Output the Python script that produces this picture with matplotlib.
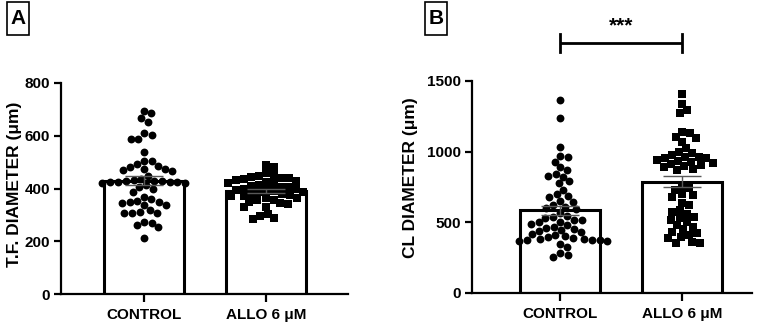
import numpy as np
import matplotlib
matplotlib.use("Agg")
import matplotlib.pyplot as plt
from matplotlib.patches import Rectangle

plt.rcParams['font.family'] = ['Liberation Sans', 'DejaVu Sans']
plt.rcParams['font.weight'] = 'bold'

categories = ["CONTROL", "ALLO 6 μM"]

tf_control = [695, 685, 668, 653, 609, 603, 588, 586, 539, 505, 505, 493, 485, 480,
              474, 474, 470, 467, 449, 435, 432, 430, 428, 428, 426, 425, 424, 423,
              422, 420, 413, 405, 398, 388, 369, 359, 353, 350, 350, 345, 337, 337,
              318, 312, 308, 306, 308, 274, 268, 262, 253, 211]
tf_allo = [489, 483, 457, 451, 447, 445, 440, 439, 435, 432, 430, 426, 422, 420, 415,
           410, 407, 405, 400, 398, 395, 394, 390, 388, 385, 380, 378, 375, 372, 370,
           365, 363, 358, 356, 350, 344, 340, 331, 331, 302, 296, 287, 283]

cl_control = [1363, 1238, 1030, 969, 965, 929, 889, 870, 842, 830, 823, 790, 776, 729,
              700, 686, 677, 650, 646, 623, 610, 600, 595, 564, 545, 540, 530, 520, 516,
              505, 500, 490, 481, 470, 458, 453, 446, 440, 430, 420, 410, 400, 395, 390,
              385, 380, 378, 375, 372, 370, 365, 347, 328, 281, 270, 257]
cl_allo = [1408, 1337, 1295, 1271, 1141, 1130, 1106, 1095, 1071, 1024, 1000, 988, 975,
           964, 960, 955, 953, 941, 935, 929, 920, 910, 908, 898, 890, 875, 873, 760,
           741, 730, 700, 693, 680, 640, 620, 587, 570, 560, 540, 530, 516, 500, 480,
           469, 450, 434, 422, 413, 398, 389, 363, 356, 354]

tf_ticks = [0, 200, 400, 600, 800]
cl_ticks = [0, 500, 1000, 1500]

W, H = 767, 326
fig = plt.figure(figsize=(W / 100, H / 100), dpi=100)


def fx(px):
    return px / W


def fy(py):
    return 1 - py / H


def swarm(vals, xpx_per_unit, ypx_per_unit, d):
    vals = np.asarray(vals, float)
    ys = vals * ypx_per_unit
    order = np.argsort(-vals)
    px, py = [], []
    offs = np.zeros(len(vals))
    for i in order:
        y = ys[i]
        cands = [0.0]
        for xj, yj in zip(px, py):
            dy = y - yj
            if abs(dy) < d:
                dx = np.sqrt(d * d - dy * dy)
                cands += [xj + dx, xj - dx]
        cands = sorted(cands, key=abs)
        for c in cands:
            ok = True
            for xj, yj in zip(px, py):
                if (c - xj) ** 2 + (y - yj) ** 2 < (d - 1e-6) ** 2:
                    ok = False
                    break
            if ok:
                break
        px.append(c)
        py.append(y)
        offs[i] = c
    return offs / xpx_per_unit


def panel(rect_px, data, ymax, ticks, xlim):
    x0, ytop, x1, ybot = rect_px
    ax = fig.add_axes([fx(x0), fy(ybot), (x1 - x0) / W, (ybot - ytop) / H])
    ax.set_xlim(*xlim)
    ax.set_ylim(0, ymax)
    xppu = (x1 - x0) / (xlim[1] - xlim[0])
    yppu = (ybot - ytop) / ymax
    markers = ['o', 's']
    sizes = [32, 38]
    for i, vals in enumerate(data):
        m = np.mean(vals)
        sem = np.std(vals, ddof=1) / np.sqrt(len(vals))
        ax.bar(i, m, width=0.65, color='white', edgecolor='black', linewidth=2.2, zorder=1)
        offs = swarm(vals, xppu, yppu, 7.8)
        ax.scatter(i + offs, vals, marker=markers[i], s=sizes[i], color='black',
                   linewidths=0, zorder=2)
        ax.errorbar(i, m, yerr=sem, color='0.35', capsize=14, capthick=1, elinewidth=1,
                    zorder=3)
    for s in ['top', 'right']:
        ax.spines[s].set_visible(False)
    for s in ['left', 'bottom']:
        ax.spines[s].set_linewidth(1.6)
    ax.set_yticks(ticks)
    ax.set_yticklabels([str(t) for t in ticks], fontsize=11, fontweight='bold')
    ax.set_xticks(range(len(categories)))
    ax.set_xticklabels(categories, fontsize=11, fontweight='bold')
    ax.tick_params(axis='both', width=1.6, length=5, pad=3)
    ax.tick_params(axis='x', length=6, pad=4)
    return ax


axA = panel((61, 83, 348, 294), [tf_control, tf_allo], 800, tf_ticks, (-0.68, 1.672))
axB = panel((472, 81, 752, 293), [cl_control, cl_allo], 1500, cl_ticks, (-0.721, 1.574))

fig.text(fx(15), fy(184), "T.F. DIAMETER (μm)", rotation=90, ha='center', va='center',
         fontsize=12.5, fontweight='bold')
fig.text(fx(411), fy(178), "CL DIAMETER (μm)", rotation=90, ha='center', va='center',
         fontsize=12.5, fontweight='bold')

# panel letters
for (bx0, bx1, lab) in [(7, 29, "A"), (425, 447, "B")]:
    fig.patches.append(Rectangle((fx(bx0), fy(35)), (bx1 - bx0) / W, 33 / H,
                                 transform=fig.transFigure, fill=False,
                                 edgecolor='black', linewidth=1.2))
    fig.text(fx((bx0 + bx1) / 2), fy(19), lab, ha='center', va='center',
             fontsize=15, fontweight='bold')

# significance bracket on panel B
yppuB = 212 / 1500
yline = (293 - 43) / yppuB
ycap0 = (293 - 34) / yppuB
ycap1 = (293 - 52) / yppuB
axB.plot([0, 1], [yline, yline], color='black', lw=2, clip_on=False, solid_capstyle='butt')
for xx in [0, 1]:
    axB.plot([xx, xx], [ycap1, ycap0], color='black', lw=2, clip_on=False)
axB.text(0.5, (293 - 26) / yppuB, "***", ha='center', va='center', fontsize=15,
         fontweight='bold', clip_on=False)

fig.savefig("out.png", dpi=100)
